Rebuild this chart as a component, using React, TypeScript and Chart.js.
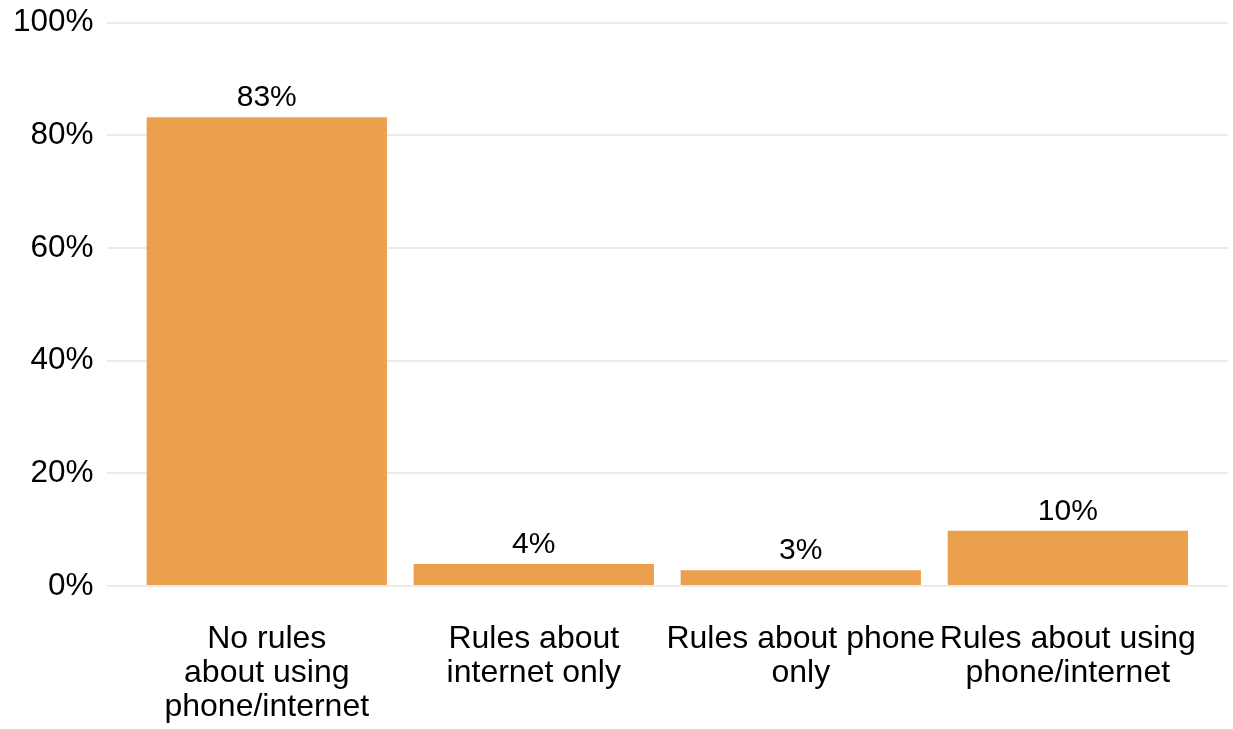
import React, { useEffect, useRef } from "react";
import { Chart, registerables } from "chart.js";

Chart.register(...registerables);

const categories: string[][] = [
  ["No rules", "about using", "phone/internet"],
  ["Rules about", "internet only"],
  ["Rules about phone", "only"],
  ["Rules about using", "phone/internet"],
];
const values: number[] = [83.2, 3.9, 2.8, 9.8];
const yTicks: number[] = [0, 20, 40, 60, 80, 100];

const BAR_COLOR = "#EBA04D";
const FONT = "'Liberation Sans', Arial, sans-serif";

const labelPlugin = {
  id: "barLabels",
  afterDatasetsDraw(chart: any) {
    const ctx = chart.ctx;
    const meta = chart.getDatasetMeta(0);
    ctx.save();
    ctx.font = `30px ${FONT}`;
    ctx.fillStyle = "#000";
    ctx.textAlign = "center";
    ctx.textBaseline = "alphabetic";
    meta.data.forEach((bar: any, i: number) => {
      ctx.fillText(Math.round(values[i]) + "%", bar.x, bar.y - 11);
    });
    ctx.restore();
  },
};

export default function App() {
  const ref = useRef<HTMLCanvasElement>(null);
  useEffect(() => {
    document.body.style.margin = "0";
    const chart = new Chart(ref.current!, {
      type: "bar",
      data: {
        datasets: [
          {
            data: values.map((v, i) => ({ x: i + 1, y: v })),
            backgroundColor: BAR_COLOR,
            barPercentage: 0.9,
            categoryPercentage: 1,
          },
        ],
      },
      options: {
        animation: false,
        responsive: false,
        maintainAspectRatio: false,
        layout: { padding: { left: 0, right: 5, top: 0, bottom: -31 } },
        plugins: { legend: { display: false }, tooltip: { enabled: false } },
        scales: {
          x: {
            type: "linear",
            offset: false,
            min: 0.4,
            max: 4.6,
            afterBuildTicks: (axis: any) => {
              axis.ticks = categories.map((_, i) => ({ value: i + 1 }));
            },
            grid: { display: false, drawTicks: false },
            border: { display: false },
            ticks: {
              autoSkip: false,
              maxRotation: 0,
              minRotation: 0,
              padding: 36,
              color: "#000",
              font: { family: FONT, size: 32, lineHeight: 34 / 32 },
              callback: (v: any) => categories[Math.round(Number(v)) - 1] ?? "",
            },
          },
          y: {
            min: 0,
            max: 100,
            afterBuildTicks: (axis: any) => {
              axis.ticks = yTicks.map((v) => ({ value: v }));
            },
            grid: { color: "#EBEBEB", lineWidth: 2, drawTicks: false },
            border: { display: false },
            ticks: {
              padding: 13,
              color: "#000",
              font: { family: FONT, size: 31.5, lineHeight: 19 / 31.5 },
              callback: (v: any) => v + "%",
            },
          },
        },
      },
      plugins: [labelPlugin],
    } as any);
    return () => chart.destroy();
  }, []);
  return (
    <div style={{ position: "absolute", left: 0, top: 0, width: 1233, height: 729 }}>
      <canvas ref={ref} width={1233} height={729} style={{ width: 1233, height: 729 }} />
    </div>
  );
}
